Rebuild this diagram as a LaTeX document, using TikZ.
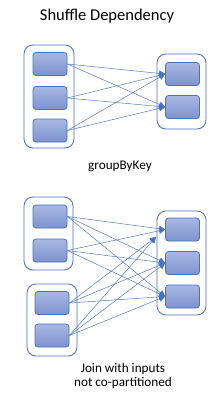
\documentclass[tikz,border=0pt]{standalone}
\usepackage{fontspec}
\setmainfont{Carlito}
\usepackage{tikz}
\usetikzlibrary{
	arrows.meta,
	positioning
}
\definecolor{partline}{HTML}{4472C4}
\definecolor{parttop}{HTML}{A8B8E3}
\definecolor{partbot}{HTML}{7E93CF}

\begin{document}
\begin{tikzpicture}[
					x=1pt, y=-1pt,
					part/.style={
							rectangle,
							rounded corners=3pt,
							draw=partline,
							line width=0.8pt,
							top color=parttop,
							bottom color=partbot,
							minimum width=34pt,
							minimum height=23pt,
							inner sep=0pt
						},
					rdd/.style={
							rectangle,
							rounded corners=9pt,
							draw=partline,
							line width=0.8pt,
							fill=white,
							inner sep=0pt
						},
					dep/.style={
							draw=partline,
							line width=0.45pt,
							-{Triangle[length=6pt,width=6pt]}
						},
					caption/.style={
							font=\fontsize{13.2}{14.5}\selectfont,
							align=center
						}
				]
				\useasboundingbox (0,0) rectangle (224,394);

				\node[font=\fontsize{16.5}{18}\selectfont] (title) at (107,16) {Shuffle Dependency};

				% groupByKey
				\node[rdd, minimum width=50pt, minimum height=103pt] (GL) at (49,96.5) {};
				\node[rdd, minimum width=49pt, minimum height=75pt] (GR) at (181.5,91.5) {};

				\node[part] (GL1) at (50,64) {};
				\node[part] (GL2) at (50,98) {};
				\node[part] (GL3) at (50,130.5) {};

				\node[part] (GR1) at (182.5,74) {};
				\node[part] (GR2) at (182.5,107) {};

				\foreach \src in {GL1,GL2,GL3}
					\foreach \dst in {GR1,GR2}
						\draw[dep] (\src.east) -- (\dst.west);

				\node[caption] (gbk) at (120,166) {groupByKey};

				% join
				\node[rdd, minimum width=49pt, minimum height=73pt] (JA) at (48.5,233.5) {};
				\node[rdd, minimum width=50pt, minimum height=72pt] (JB) at (52,320) {};
				\node[rdd, minimum width=49pt, minimum height=104pt] (JR) at (181.5,263) {};

				\node[part] (JA1) at (50,216.5) {};
				\node[part] (JA2) at (50,250.5) {};
				\node[part] (JB1) at (52,303) {};
				\node[part] (JB2) at (52,335.5) {};

				\node[part] (JR1) at (182.5,229.5) {};
				\node[part] (JR2) at (182.5,263) {};
				\node[part] (JR3) at (182.5,296.5) {};

				\coordinate (short) at (156,237);

				\foreach \src in {JA1,JA2}
					\foreach \dst in {JR1,JR2,JR3}
						\draw[dep] (\src.east) -- (\dst.west);
				\foreach \src in {JB1,JB2}{
					\draw[dep] (\src.east) -- (short);
					\foreach \dst in {JR2,JR3}
						\draw[dep] (\src.east) -- (\dst.west);
				}

				\node[caption] (join) at (123,376) {Join with inputs\\not co-partitioned};
		\end{tikzpicture}
\end{document}
